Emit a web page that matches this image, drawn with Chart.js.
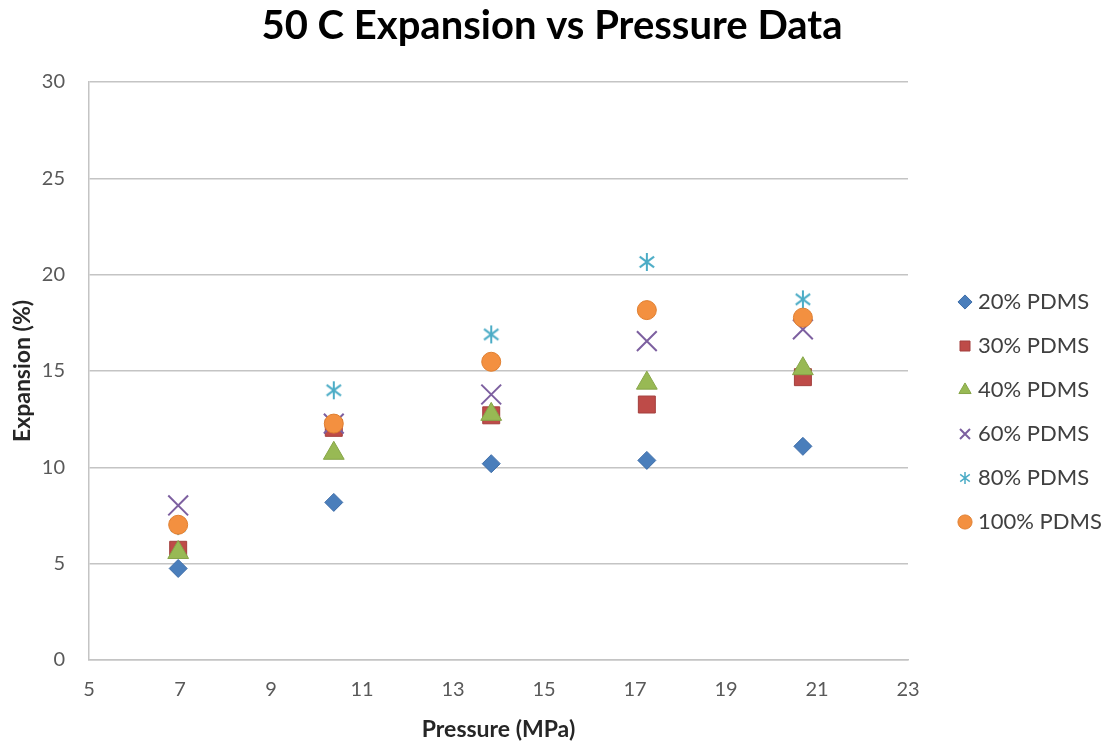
<!DOCTYPE html>
<html>
<head>
<meta charset="utf-8">
<script src="https://cdn.jsdelivr.net/npm/chart.js@4.4.1/dist/chart.umd.min.js"></script>
<style>
  body { margin: 0; background: #fff; }
  #wrap { width: 1104px; height: 744px; }
</style>
</head>
<body>
<div id="wrap"><canvas id="expChart" width="1104" height="744"></canvas></div>
<script>
// pressure (MPa) for every series
const pressure = [6.96, 10.38, 13.84, 17.26, 20.69];

// expansion (%)
const pdms20 = [4.75, 8.18, 10.19, 10.36, 11.09];
const pdms30 = [5.72, 12.05, 12.70, 13.26, 14.68];
const pdms40 = [5.58, 10.73, 12.75, 14.37, 15.12];
const pdms60 = [8.02, 12.27, 13.78, 16.55, 17.16];
const pdms80 = [6.95, 14.00, 16.90, 20.66, 18.72];
const pdms100 = [7.02, 12.27, 15.48, 18.16, 17.77];

const seriesNames = ['20% PDMS', '30% PDMS', '40% PDMS', '60% PDMS', '80% PDMS', '100% PDMS'];

// excel-ish asterisk marker (vertical bar + x)
function asterisk(size, color, lw) {
    const c = document.createElement('canvas');
    c.width = size; c.height = size;
    const g = c.getContext('2d');
    g.strokeStyle = color;
    g.lineWidth = lw;
    const m = size / 2, r = size / 2 - 1;
    const dx = r * 0.8, dy = r * 0.6;
    g.beginPath();
    g.moveTo(m, m - r); g.lineTo(m, m + r);
    g.moveTo(m - dx, m - dy); g.lineTo(m + dx, m + dy);
    g.moveTo(m - dx, m + dy); g.lineTo(m + dx, m - dy);
    g.stroke();
    return c;
}
const starBig = asterisk(20, '#4BACC6', 2);
const starSmall = asterisk(14, '#4BACC6', 1.5);

const points = vals => vals.map((v, i) => ({ x: pressure[i], y: v }));

Chart.defaults.font.family = 'Lato';
Chart.defaults.font.size = 20;
Chart.defaults.color = '#595959';

const gridCol = '#c4c4c4';

// legend box gets a fixed width so the plot ends where the reference does
const legendWidth = {
    id: 'legendWidth',
    beforeLayout(chart) {
        const lg = chart.legend;
        if (lg && !lg._fixedFit) {
            const fit = lg.fit.bind(lg);
            lg.fit = function () { fit(); this.width = 163; };
            lg._fixedFit = true;
        }
    }
};

new Chart(document.getElementById('expChart').getContext('2d'), {
    type: 'scatter',
    data: {
        datasets: [
            { label: seriesNames[0], data: points(pdms20), pointStyle: 'rectRot', pointRadius: 9,
              backgroundColor: '#4A7EBB', borderColor: '#3E6DA8', borderWidth: 1, order: 6 },
            { label: seriesNames[1], data: points(pdms30), pointStyle: 'rect', pointRadius: 12,
              backgroundColor: '#BE4B48', borderColor: '#A33F3D', borderWidth: 1, order: 5 },
            { label: seriesNames[2], data: points(pdms40), pointStyle: 'triangle', pointRadius: 12,
              backgroundColor: '#98B954', borderColor: '#86A548', borderWidth: 1, order: 4 },
            { label: seriesNames[3], data: points(pdms60), pointStyle: 'crossRot', pointRadius: 14,
              backgroundColor: '#7D60A0', borderColor: '#7D60A0', borderWidth: 2, order: 3 },
            { label: seriesNames[4], data: points(pdms80), pointStyle: starBig, pointRadius: 10,
              backgroundColor: '#4BACC6', borderColor: '#4BACC6', borderWidth: 2, order: 2 },
            { label: seriesNames[5], data: points(pdms100), pointStyle: 'circle', pointRadius: 9.5,
              backgroundColor: '#F39040', borderColor: '#E07F30', borderWidth: 1, order: 1 }
        ]
    },
    plugins: [legendWidth],
    options: {
        responsive: false,
        animation: false,
        layout: { padding: 0 },
        plugins: {
            title: {
                display: true,
                text: '50 C Expansion vs Pressure Data',
                color: '#000',
                font: { size: 40, weight: 'bold', lineHeight: 1.2 },
                padding: { top: 2, bottom: 32 }
            },
            legend: {
                position: 'right',
                align: 'start',
                title: { display: true, text: '', font: { size: 10, lineHeight: 1 }, padding: { top: 259, bottom: 0 } },
                labels: {
                    usePointStyle: true,
                    boxWidth: 4,
                    boxHeight: 10,
                    padding: 22,
                    color: '#404040',
                    font: { size: 22 },
                    sort: (a, b) => a.datasetIndex - b.datasetIndex,
                    generateLabels: chart => {
                        const items = Chart.defaults.plugins.legend.labels.generateLabels(chart);
                        items.forEach(it => { if (it.pointStyle === starBig) it.pointStyle = starSmall; });
                        return items;
                    }
                }
            },
            tooltip: { enabled: false }
        },
        scales: {
            x: {
                type: 'linear',
                min: 5,
                max: 23,
                ticks: { stepSize: 2, padding: 18 },
                grid: { display: false, drawTicks: false },
                border: { display: true, color: gridCol, width: 1.5 },
                title: { display: true, text: 'Pressure (MPa)', color: '#262626',
                         font: { size: 23, weight: 'bold', lineHeight: 1.2 }, padding: { top: 0, bottom: 1 } },
                afterFit: s => { s.height = 84; }
            },
            y: {
                min: 0,
                max: 30,
                ticks: { stepSize: 5, padding: 24 },
                grid: { color: gridCol, lineWidth: 1.5, drawTicks: false },
                border: { display: true, color: gridCol, width: 1.5 },
                title: { display: true, text: 'Expansion (%)', color: '#262626',
                         font: { size: 23, weight: 'bold', lineHeight: 1.2 }, padding: { top: 9, bottom: 0 } },
                afterFit: s => { s.width = 89; }
            },
            // empty spacer between plot and legend
            gap: {
                type: 'linear',
                position: 'right',
                display: true,
                grid: { display: false, drawTicks: false },
                ticks: { display: false },
                border: { display: false },
                afterFit: s => { s.width = 33; }
            }
        }
    }
});
</script>
</body>
</html>
